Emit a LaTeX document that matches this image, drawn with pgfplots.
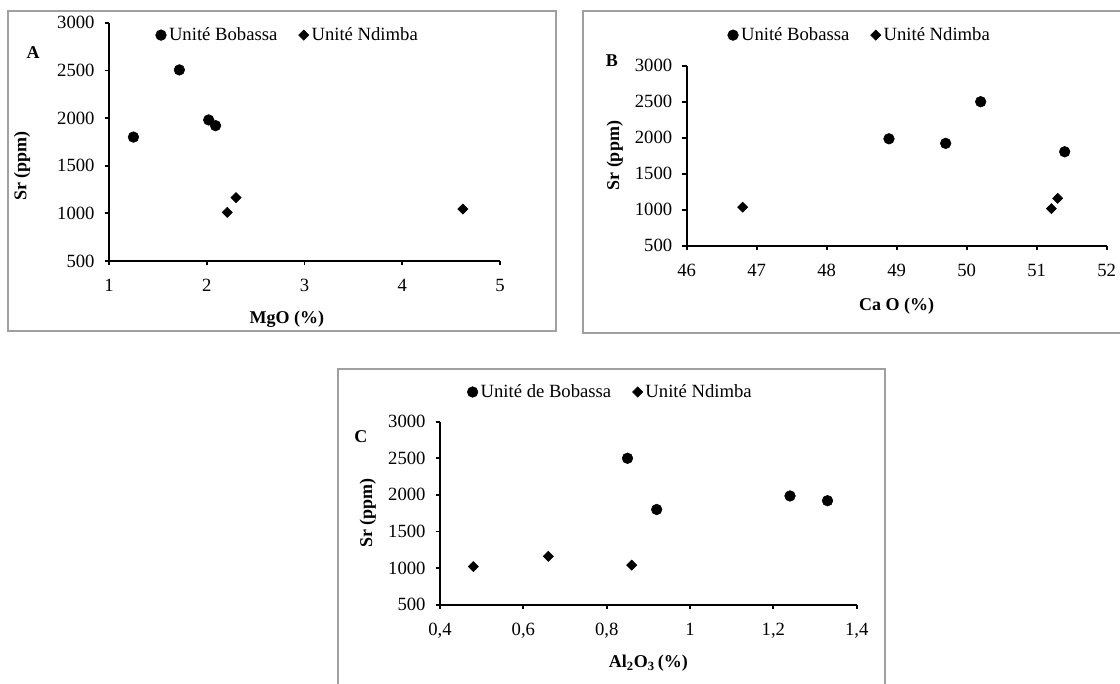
\documentclass[border=0pt]{standalone}
\usepackage{pgfplots}
\pgfplotsset{compat=1.18}
\usepackage{fontspec}
\setmainfont{Liberation Serif}

\definecolor{framegray}{HTML}{A0A0A0}

\tikzset{
  panelletter/.style={font=\bfseries\fontsize{13.5}{15}\selectfont, anchor=center},
}
\pgfplotsset{
  srpanel/.style={
    scale only axis,
    axis lines=left,
    axis line style={-, line width=1.5pt},
    every tick/.style={black, line width=1.3pt},
    tick align=outside,
    major tick length=3.3pt,
    ticklabel style={font=\fontsize{14}{16}\selectfont},
    yticklabel style={xshift=-4pt},
    xticklabel style={yshift=-7pt},
    label style={font=\bfseries\fontsize{13.5}{15}\selectfont},
    /pgf/number format/assume math mode=true,
    scaled ticks=false,
    ymin=500, ymax=3000,
    ytick={500,1000,1500,2000,2500,3000},
    ylabel={Sr (ppm)},
    clip=false,
    legend columns=2,
    legend cell align=left,
    legend style={draw=none, fill=none, anchor=center,
      font=\fontsize{14}{16}\selectfont,
      /tikz/every even column/.append style={column sep=14pt},
      /tikz/every odd column/.append style={column sep=0pt}},
  },
  bob/.style={only marks, mark=*, mark size=4pt, black},
  ndi/.style={only marks, mark=square*, mark size=2.7pt, black, mark options={rotate=45}},
}

\begin{document}
\begin{tikzpicture}[x=0.75pt, y=0.75pt]
\useasboundingbox (0,0) rectangle (1120,684);

% chart frames
\draw[framegray, line width=0.9pt] (8,353) rectangle (556,673);
\draw[framegray, line width=0.9pt] (583,351) rectangle (1130,673);
\draw[framegray, line width=0.9pt] (338,-10) rectangle (885,315);

% A: Sr vs MgO
\begin{axis}[srpanel,
  /pgf/number format/1000 sep={},
  at={(81.75pt,317.25pt)}, anchor=south west,
  width=293.25pt, height=178.7pt,
  xmin=1, xmax=5, xtick={1,2,3,4,5},
  xlabel={MgO (\%)},
  xlabel style={at={(axis description cs:0.455,-0.243)}, anchor=center},
  ylabel style={at={(axis description cs:-0.2225,0.399)}, anchor=center},
  legend style={at={(0.458,0.948)}},
]
\addplot[bob] coordinates {(1.25,1800) (1.72,2505) (2.02,1980) (2.09,1920)};
\addlegendentry{Unité Bobassa}
\addplot[ndi] coordinates {(2.21,1010) (2.30,1165) (4.62,1045)};
\addlegendentry{Unité Ndimba}
\node[panelletter] at (axis description cs:-0.194,0.873) {A};
\end{axis}

% B: Sr vs CaO
\begin{axis}[srpanel,
  /pgf/number format/1000 sep={},
  at={(515pt,328.7pt)}, anchor=south west,
  width=315pt, height=135pt,
  xmin=46, xmax=52, xtick={46,47,48,49,50,51,52},
  xlabel={Ca O (\%)},
  xlabel style={at={(axis description cs:0.5,-0.335)}, anchor=center},
  ylabel style={at={(axis description cs:-0.171,0.5)}, anchor=center},
  legend style={at={(0.413,1.17)}},
]
\addplot[bob] coordinates {(48.89,1985) (49.70,1922) (50.20,2500) (51.40,1805)};
\addlegendentry{Unité Bobassa}
\addplot[ndi] coordinates {(46.80,1035) (51.21,1015) (51.30,1158)};
\addlegendentry{Unité Ndimba}
\node[panelletter] at (axis description cs:-0.178,1.026) {B};
\end{axis}

% C: Sr vs Al2O3
\begin{axis}[srpanel,
  /pgf/number format/use comma,
  /pgf/number format/1000 sep={},
  at={(330pt,59.5pt)}, anchor=south west,
  width=312.5pt, height=137.25pt,
  xmin=0.4, xmax=1.4, xtick={0.4,0.6,0.8,1,1.2,1.4},
  xlabel={Al\textsubscript{2}O\textsubscript{3}\,(\%)},
  xlabel style={at={(axis description cs:0.5,-0.319)}, anchor=center},
  ylabel style={at={(axis description cs:-0.173,0.5)}, anchor=center},
  legend style={at={(0.41,1.162)}},
]
\addplot[bob] coordinates {(0.85,2500) (0.92,1800) (1.24,1985) (1.33,1920)};
\addlegendentry{Unité de Bobassa}
\addplot[ndi] coordinates {(0.48,1020) (0.66,1160) (0.86,1040)};
\addlegendentry{Unité Ndimba}
\node[panelletter] at (axis description cs:-0.19,0.916) {C};
\end{axis}
\end{tikzpicture}
\end{document}
